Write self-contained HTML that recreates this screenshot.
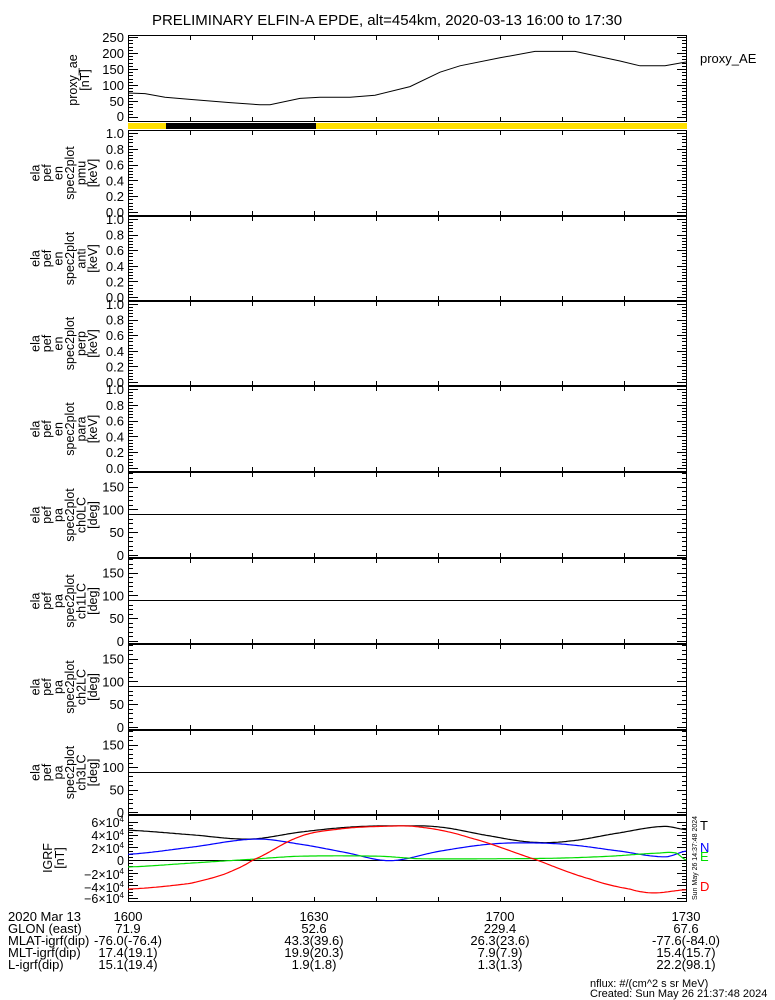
<!DOCTYPE html>
<html><head><meta charset="utf-8"><style>
html,body{margin:0;padding:0;background:#fff}
svg{display:block;font-family:"Liberation Sans",sans-serif}
text{fill:#000}
</style></head><body>
<svg id="s" width="775" height="1000" viewBox="0 0 775 1000" xmlns="http://www.w3.org/2000/svg">
<text x="387" y="25" font-size="15" text-anchor="middle">PRELIMINARY ELFIN-A EPDE, alt=454km, 2020-03-13 16:00 to 17:30</text>
<g id="axes" stroke="#000" fill="none" stroke-width="1"></g>
<rect x="128" y="123" width="559" height="6" fill="#ffe000"/>
<rect x="166" y="123" width="150" height="6" fill="#000"/>
<polyline id="ae" fill="none" stroke="#000" stroke-width="1"/>
<text x="700" y="63" font-size="13">proxy_AE</text>
<g font-size="13" text-anchor="end" id="ylab">
<text x="124" y="42">250</text><text x="124" y="58">200</text><text x="124" y="74">150</text><text x="124" y="90">100</text><text x="124" y="106">50</text><text x="124" y="121">0</text>
</g>
<g font-size="12.5" text-anchor="middle" id="plabels">
<g transform="translate(0,80) rotate(-90)"><text x="0" y="77">proxy_ae</text><text x="0" y="89">[nT]</text></g>
</g>
<g font-size="12.5" text-anchor="end">
<text x="124" y="827">6×10<tspan font-size="8" dy="-5">4</tspan></text>
<text x="124" y="840">4×10<tspan font-size="8" dy="-5">4</tspan></text>
<text x="124" y="853">2×10<tspan font-size="8" dy="-5">4</tspan></text>
<text x="124" y="865">0</text>
<text x="124" y="879">−2×10<tspan font-size="8" dy="-5">4</tspan></text>
<text x="124" y="892">−4×10<tspan font-size="8" dy="-5">4</tspan></text>
<text x="124" y="903">−6×10<tspan font-size="8" dy="-5">4</tspan></text>
</g>
<g transform="translate(0,858) rotate(-90)" font-size="12.5" text-anchor="middle"><text x="0" y="52">IGRF</text><text x="0" y="64">[nT]</text></g>
<g id="igrf"></g>
<text x="700" y="830" font-size="13">T</text>
<text x="700" y="852" font-size="13" style="fill:#0000ff">N</text>
<text x="700" y="861" font-size="13" style="fill:#00dd00">E</text>
<text x="700" y="891" font-size="13" style="fill:#ff0000">D</text>
<text transform="translate(697,900) rotate(-90)" font-size="7">Sun May 26 14:37:48 2024</text>
<g font-size="13">
<text x="8" y="921">2020 Mar 13</text><text x="8" y="933">GLON (east)</text><text x="8" y="945">MLAT-igrf(dip)</text><text x="8" y="957">MLT-igrf(dip)</text><text x="8" y="969">L-igrf(dip)</text>
</g>
<g font-size="13" text-anchor="middle">
<text x="128" y="921">1600</text><text x="128" y="933">71.9</text><text x="128" y="945">-76.0(-76.4)</text><text x="128" y="957">17.4(19.1)</text><text x="128" y="969">15.1(19.4)</text>
<text x="314" y="921">1630</text><text x="314" y="933">52.6</text><text x="314" y="945">43.3(39.6)</text><text x="314" y="957">19.9(20.3)</text><text x="314" y="969">1.9(1.8)</text>
<text x="500" y="921">1700</text><text x="500" y="933">229.4</text><text x="500" y="945">26.3(23.6)</text><text x="500" y="957">7.9(7.9)</text><text x="500" y="969">1.3(1.3)</text>
<text x="686" y="921">1730</text><text x="686" y="933">67.6</text><text x="686" y="945">-77.6(-84.0)</text><text x="686" y="957">15.4(15.7)</text><text x="686" y="969">22.2(98.1)</text>
</g>
<text x="590" y="987" font-size="11">nflux: #/(cm^2 s sr MeV)</text>
<text x="590" y="997" font-size="11">Created: Sun May 26 21:37:48 2024</text>
</svg>
<script>
var NS="http://www.w3.org/2000/svg",s=document.getElementById('s'),ax=document.getElementById('axes');
function el(t,a,p){var e=document.createElementNS(NS,t);for(var k in a)e.setAttribute(k,a[k]);(p||s).appendChild(e);return e;}
function txt(x,y,str,a,p){var e=el('text',Object.assign({x:x,y:y},a||{}),p);e.textContent=str;return e;}
var X0=128,X1=687;
function box(y0,y1){el('rect',{x:X0+.5,y:y0+.5,width:X1-X0-1,height:y1-y0-1},ax);
 for(var x=X0+62;x<X1-5;x+=62){el('line',{x1:x+.5,y1:y0,x2:x+.5,y2:y0+5},ax);el('line',{x1:x+.5,y1:y1,x2:x+.5,y2:y1-5},ax);}}
function yt(y,len){el('line',{x1:X0,y1:y+.5,x2:X0+len,y2:y+.5},ax);el('line',{x1:X1,y1:y+.5,x2:X1-len,y2:y+.5},ax);}
box(35,122);
for(var v=0;v<=250;v+=10){var y=Math.round(117-v*0.32);yt(y,v%50==0?10:5);}
var ae=[[128,75],[145,73],[165,62],[190,55],[230,45],[260,38],[270,38],[300,58],[320,62],[350,62],[375,68],[410,95],[440,140],[460,160],[500,185],[535,205],[575,205],[620,175],[640,160],[665,160],[686,172]];
document.getElementById('ae').setAttribute('points',ae.map(function(p){return p[0]+','+(117-p[1]*0.32).toFixed(1)}).join(' '));
var pl=document.getElementById('plabels');
function vlab(cy,lines){var g=el('g',{transform:'translate(0,'+cy+') rotate(-90)'},pl);var x0=93-(lines.length-1)*11.5;lines.forEach(function(l,i){txt(0,x0+i*11.5+4,l,{},g);});}
var ptops=[130,216,301,386,472,558,644,730,815];
var en=['pmu','anti','perp','para'];
for(var i=0;i<4;i++){var t=ptops[i],b=ptops[i+1];box(t,b);var ya=t+3,yb=b-4;
 for(var k=0;k<=50;k++){var yy=Math.round(yb-(yb-ya)*k/50);if(k%2==0)yt(yy,k%10==0?10:5);}
 var yl=document.getElementById('ylab');
 for(var k=0;k<=5;k++){var yy=yb-(yb-ya)*k/5;txt(124,yy+5,(k*0.2).toFixed(1),{'text-anchor':'end','font-size':13},yl);}
 vlab((t+b)/2,['ela','pef','en','spec2plot',en[i],'[keV]']);}
for(var i=4;i<8;i++){var t=ptops[i],b=ptops[i+1];box(t,b);var y0=b-3,sc=(b-3-(t+1))/180;
 for(var d=0;d<=180;d+=10){yt(Math.round(y0-d*sc),d%50==0?10:5);}
 el('line',{x1:X0,y1:Math.round(y0-90*sc)+.5,x2:X1,y2:Math.round(y0-90*sc)+.5},ax);
 var yl=document.getElementById('ylab');
 [0,50,100,150].forEach(function(d){txt(124,y0-d*sc+5,d,{'text-anchor':'end','font-size':13},yl);});
 vlab((t+b)/2,['ela','pef','pa','spec2plot','ch'+(i-4)+'LC','[deg]']);}
box(815,902);
var z=860,sc2=38/60000;
for(var v=-60000;v<=60000;v+=5000){yt(Math.round(z-v*sc2),v%20000==0?10:5);}
el('line',{x1:X0,y1:z+.5,x2:X1,y2:z+.5,stroke:'#000'},document.getElementById('igrf'));
function curve(pts,col){var out=[];var n=pts.length;
 function P(i){return pts[Math.max(0,Math.min(n-1,i))];}
 for(var x=X0;x<=686;x+=2){var j=0;while(j<n-2&&pts[j+1][0]<x)j++;var a=P(j),b=P(j+1),a0=P(j-1),b1=P(j+2);
  var t=(x-a[0])/(b[0]-a[0]);t=Math.max(0,Math.min(1,t));
  var m1=(b[1]-a0[1])/2,m2=(b1[1]-a[1])/2;
  var t2=t*t,t3=t2*t;
  var v=(2*t3-3*t2+1)*a[1]+(t3-2*t2+t)*m1+(-2*t3+3*t2)*b[1]+(t3-t2)*m2;
  out.push(x+','+(z-v*1000*sc2).toFixed(1));}
 el('polyline',{points:out.join(' '),fill:'none',stroke:col,'stroke-width':1.2},document.getElementById('igrf'));}
curve([[128,47],[190,40],[250,33],[300,44],[350,52],[397,54],[440,52],[490,38],[533,28],[570,30],[620,43],[663,53],[686,48]],'#000');
curve([[128,9],[190,20],[255,33],[300,25],[345,12],[390,-1],[440,14],[490,25],[530,27],[570,24],[620,14],[665,5],[686,14]],'#0000ff');
curve([[128,-11],[190,-5],[250,1],[300,6],[380,6],[420,2],[500,2],[560,3],[610,6],[660,11],[676,11],[686,0]],'#00dd00');
curve([[128,-46],[190,-37],[225,-22],[253,0],[300,37],[340,49],[380,53],[420,52],[470,35],[537,0],[590,-30],[630,-46],[653,-52],[686,-47]],'#ff0000');
</script>
</body></html>
